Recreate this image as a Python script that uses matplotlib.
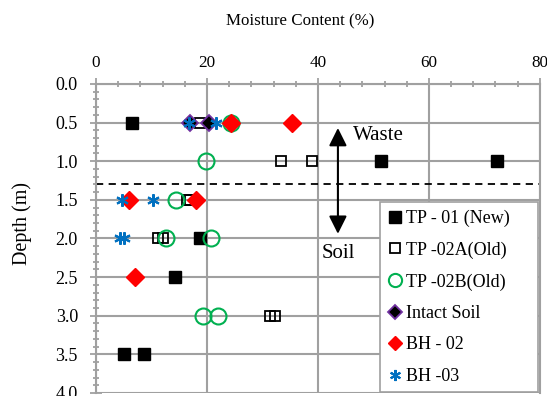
import matplotlib
matplotlib.use("Agg")
import matplotlib.pyplot as plt
from matplotlib.ticker import MultipleLocator

plt.rcParams['font.family'] = ['Liberation Serif', 'DejaVu Serif']

# moisture content (%) and depth (m) for each series
tp01_mc = [6.4, 51.4, 72.3, 18.8, 14.2, 5.1, 8.6]
tp01_d = [0.5, 1.0, 1.0, 2.0, 2.5, 3.5, 3.5]

tp02a_mc = [18.7, 33.3, 39.0, 16.4, 16.9, 11.2, 12.1, 31.3, 32.3]
tp02a_d = [0.5, 1.0, 1.0, 1.5, 1.5, 2.0, 2.0, 3.0, 3.0]

tp02b_mc = [24.3, 19.9, 14.4, 12.7, 20.7, 19.2, 22.0]
tp02b_d = [0.5, 1.0, 1.5, 2.0, 2.0, 3.0, 3.0]

intact_mc = [16.9, 20.4]
intact_d = [0.5, 0.5]

bh02_mc = [24.4, 35.4, 6.0, 18.0, 7.1]
bh02_d = [0.5, 0.5, 1.5, 1.5, 2.5]

bh03_mc = [16.8, 21.7, 4.6, 10.2, 4.3, 5.0]
bh03_d = [0.5, 0.5, 1.5, 1.5, 2.0, 2.0]

fig = plt.figure(figsize=(5.47, 3.96), dpi=100)
ax = fig.add_axes([0.1755, 0.0076, 0.8115, 0.7804])

grid_c = '#A0A0A0'
ax.plot(tp01_mc, tp01_d, ls='none', marker='s', ms=8.5, color='black', label='TP - 01 (New)', zorder=3)
ax.plot(tp02a_mc, tp02a_d, ls='none', marker='s', ms=7, mfc='none', mec='black', mew=1.3,
        label='TP -02A(Old)', zorder=3)
ax.plot(tp02b_mc, tp02b_d, ls='none', marker='o', ms=11.5, mfc='none', mec='#00B050', mew=1.5,
        label='TP -02B(Old)', zorder=3)
ax.plot(intact_mc, intact_d, ls='none', marker='D', ms=8, mfc='black', mec='#7030A0', mew=1.3,
        label='Intact Soil', zorder=4)
ax.plot(bh02_mc, bh02_d, ls='none', marker='D', ms=9, color='#FF0000', label='BH - 02', zorder=4)
ax.plot(bh03_mc, bh03_d, ls='none', marker=(6, 2, 0), ms=9, mec='#0070C0', mew=1.5,
        label='BH -03', zorder=4)

ax.axhline(1.3, color='black', ls=(0, (4, 3)), lw=1.3, zorder=2)
ax.annotate('', xy=(43.6, 0.57), xytext=(43.6, 1.94),
            arrowprops=dict(arrowstyle='<|-|>', lw=1.5, color='black', mutation_scale=27,
                            shrinkA=0, shrinkB=0))
ax.text(46.4, 0.725, 'Waste', fontsize=15, va='baseline')
ax.text(40.7, 2.25, 'Soil', fontsize=15, va='baseline')

ax.set_xlim(0, 80)
ax.set_ylim(4.0, 0.0)
ax.xaxis.set_major_locator(MultipleLocator(20))
ax.xaxis.set_minor_locator(MultipleLocator(4))
ax.yaxis.set_major_locator(MultipleLocator(0.5))
ax.yaxis.set_minor_locator(MultipleLocator(0.1))
ax.yaxis.set_major_formatter(plt.FormatStrFormatter('%.1f'))
ax.xaxis.tick_top()
ax.xaxis.set_label_position('top')
ax.tick_params(which='both', direction='inout', color=grid_c, labelsize=13, top=True, bottom=False,
               left=True, right=False)
ax.tick_params(which='major', length=8, width=1.3)
ax.tick_params(which='minor', length=5, width=1.3)
ax.tick_params(axis='x', pad=5, labelsize=12.3)
ax.tick_params(axis='y', pad=9)
ax.grid(True, which='major', color=grid_c, lw=1.5, zorder=0)
ax.set_axisbelow(True)
for s in ax.spines.values():
    s.set_color(grid_c)
    s.set_linewidth(1.5)
ax.spines['bottom'].set_visible(False)

ax.set_xlabel('Moisture Content (%)', fontsize=12.2)
ax.xaxis.set_label_coords(0.459, 1.188)
ax.set_ylabel('Depth (m)', fontsize=14.5)
ax.yaxis.set_label_coords(-0.1448, 0.547)

leg = ax.legend(loc='lower left', bbox_to_anchor=(0.6396, 0.003, 0.356, 0.5), mode='expand',
                borderaxespad=0, fontsize=13, frameon=True, fancybox=False, edgecolor='#A0A0A0',
                framealpha=1, labelspacing=0.8, handlelength=0.9, handletextpad=0.15,
                borderpad=0.4)
leg.get_frame().set_linewidth(1.2)
for h, m in zip(leg.legend_handles, [8.5, 7.5, 9.5, 7, 7, 8]):
    h.set_markersize(m)

fig.savefig('out.png', dpi=100)
